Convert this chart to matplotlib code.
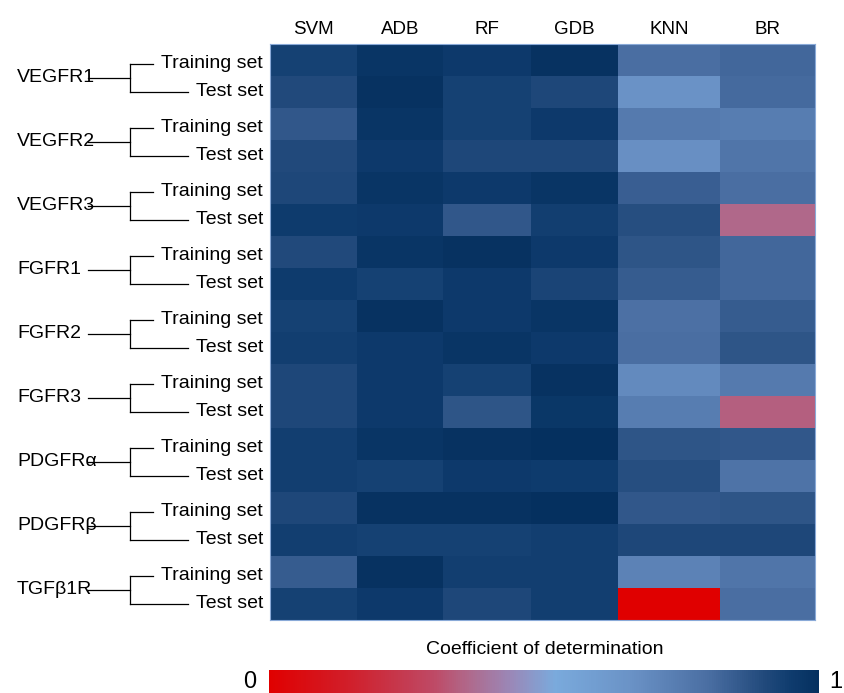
import numpy as np
import matplotlib.pyplot as plt
from matplotlib.colors import LinearSegmentedColormap

plt.rcParams['font.family'] = ['Liberation Sans', 'DejaVu Sans']

models = ['SVM', 'ADB', 'RF', 'GDB', 'KNN', 'BR']
targets = ['VEGFR1', 'VEGFR2', 'VEGFR3', 'FGFR1', 'FGFR2', 'FGFR3',
           'PDGFR\u03b1', 'PDGFR\u03b2', 'TGF\u03b21R']
set_names = ['Training set', 'Test set']

# coefficient of determination, rows = target x (training, test)
r2 = np.array([
    [0.93, 0.98, 0.96, 0.99, 0.80, 0.82],   # VEGFR1 training
    [0.90, 0.99, 0.93, 0.91, 0.66, 0.81],   # VEGFR1 test
    [0.86, 0.98, 0.93, 0.96, 0.75, 0.74],   # VEGFR2 training
    [0.90, 0.96, 0.91, 0.91, 0.67, 0.77],   # VEGFR2 test
    [0.91, 0.98, 0.96, 0.98, 0.84, 0.80],   # VEGFR3 training
    [0.95, 0.96, 0.86, 0.94, 0.89, 0.36],   # VEGFR3 test
    [0.90, 0.98, 0.99, 0.96, 0.87, 0.82],   # FGFR1 training
    [0.95, 0.93, 0.96, 0.92, 0.85, 0.82],   # FGFR1 test
    [0.93, 0.99, 0.96, 0.98, 0.79, 0.85],   # FGFR2 training
    [0.94, 0.96, 0.98, 0.96, 0.80, 0.87],   # FGFR2 test
    [0.91, 0.96, 0.93, 0.99, 0.69, 0.75],   # FGFR3 training
    [0.91, 0.96, 0.87, 0.97, 0.74, 0.34],   # FGFR3 test
    [0.94, 0.98, 0.99, 1.00, 0.87, 0.86],   # PDGFRa training
    [0.94, 0.93, 0.96, 0.95, 0.89, 0.78],   # PDGFRa test
    [0.91, 0.99, 0.99, 1.00, 0.86, 0.87],   # PDGFRb training
    [0.94, 0.93, 0.93, 0.94, 0.91, 0.91],   # PDGFRb test
    [0.85, 0.99, 0.94, 0.94, 0.72, 0.77],   # TGFb1R training
    [0.93, 0.96, 0.91, 0.94, 0.00, 0.80],   # TGFb1R test
])

# layout (pixels) of the uneven columns
col_widths = [87, 86, 88, 87, 102, 95]

cmap = LinearSegmentedColormap.from_list('r2', [
    (0.00, '#E00000'), (0.15, '#D0202C'), (0.30, '#BE4A66'),
    (0.36, '#B0688A'), (0.44, '#9A88B8'), (0.52, '#7AAADC'),
    (0.66, '#6A92C6'), (0.80, '#4A6EA2'), (0.90, '#224A7C'),
    (0.95, '#0F3C6E'), (1.00, '#05305F')])

W, H = 844, 693
fig = plt.figure(figsize=(W / 100, H / 100), dpi=100)

left, right, top, bottom = 270, 815, 44, 620
ax = fig.add_axes([left / W, 1 - bottom / H, (right - left) / W, (bottom - top) / H])
x_edges = np.concatenate([[0], np.cumsum(col_widths)])
y_edges = np.arange(r2.shape[0] + 1)
mesh = ax.pcolormesh(x_edges, y_edges, r2, cmap=cmap, vmin=0, vmax=1)
ax.set_xlim(x_edges[0], x_edges[-1])
ax.set_ylim(len(y_edges) - 1, 0)
ax.set_yticks([])
centers = (x_edges[:-1] + x_edges[1:]) / 2
ax.set_xticks(centers)
ax.set_xticklabels(models, fontsize=13.5)
ax.xaxis.tick_top()
ax.tick_params(axis='x', length=0, pad=4.5)
for sp in ax.spines.values():
    sp.set_color('#8AAAD8')
    sp.set_linewidth(0.8)

# bracket labels on the left
dax = fig.add_axes([0, 1 - bottom / H, left / W, (bottom - top) / H])
dax.set_xlim(0, left)
dax.set_ylim(len(y_edges) - 1, 0)
dax.axis('off')
for g, name in enumerate(targets):
    y_tr = 2 * g + 0.62
    y_te = 2 * g + 1.5
    y_mid = (y_tr + y_te) / 2
    dax.plot([130, 130], [y_tr, y_te], color='black', lw=0.9)
    dax.plot([130, 153], [y_tr, y_tr], color='black', lw=0.9)
    dax.plot([130, 188], [y_te, y_te], color='black', lw=0.9)
    dax.plot([88, 130], [y_mid, y_mid], color='black', lw=0.9)
    dax.text(263, y_tr, set_names[0], ha='right', va='center', fontsize=14)
    dax.text(263, y_te, set_names[1], ha='right', va='center', fontsize=14)
    dax.text(17, y_mid, name, ha='left', va='center', fontsize=14)

# colour bar at the bottom, cut by the figure edge
cax = fig.add_axes([269 / W, 0, 550 / W, 23 / H])
cb = fig.colorbar(mesh, cax=cax, orientation='horizontal')
cb.set_ticks([])
cb.outline.set_visible(False)
fig.text(545 / W, 1 - 649 / H, 'Coefficient of determination', ha='center', va='center', fontsize=14)
fig.text(250 / W, 1 - 682 / H, '0', ha='center', va='center', fontsize=17)
fig.text(836 / W, 1 - 682 / H, '1', ha='center', va='center', fontsize=17)

fig.savefig('out.png', dpi=100)
